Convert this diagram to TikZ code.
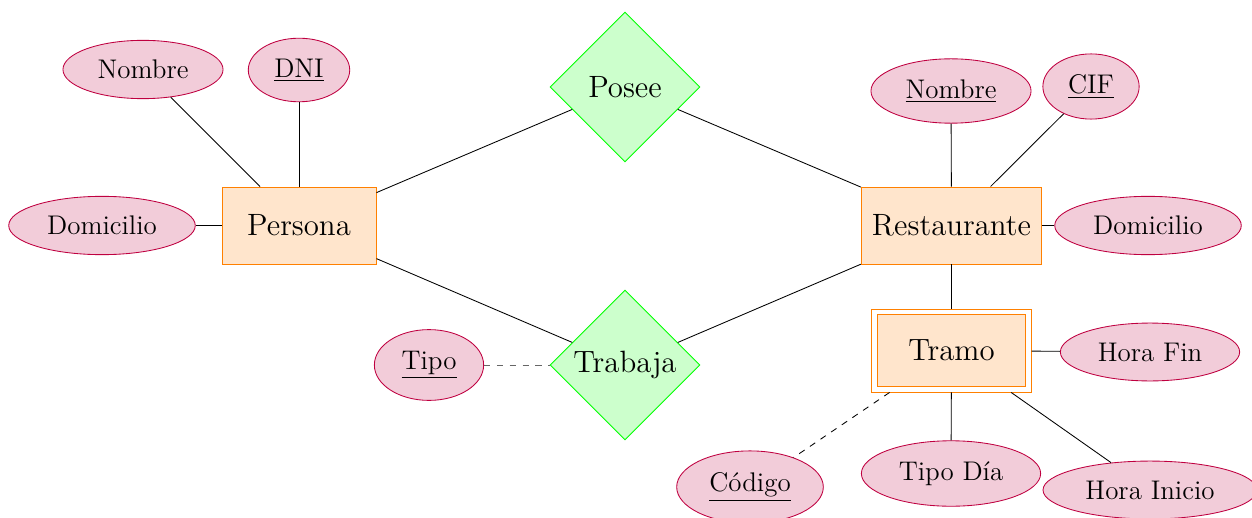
\documentclass[tikz,border=0pt]{standalone}
\usetikzlibrary{shapes.geometric}
\begin{document}
\begin{tikzpicture}[x=0.4673pt,y=-0.4673pt,
  entity/.style={rectangle,draw=orange,fill=orange!20,font=\Large,minimum width=72pt,minimum height=36pt,inner xsep=5pt},
  weakouter/.style={rectangle,draw=orange,fill=white,minimum width=74.4pt,minimum height=38.8pt,inner sep=0pt},
  weakinner/.style={rectangle,draw=orange,fill=orange!20,font=\Large,minimum width=69.2pt,minimum height=33.6pt,inner sep=0pt},
  relation/.style={diamond,draw=green,fill=green!20,font=\Large,minimum size=70pt,inner sep=0pt},
  attr/.style={ellipse,draw=purple,fill=purple!20,font=\fontsize{12.6}{15}\selectfont,inner sep=5.2pt},
  link/.style={draw=black},
  dlink/.style={draw=black,dashed},
  glink/.style={draw=black!60,dashed}]
\useasboundingbox (0,0) rectangle (1252,517);
% entities
\node[entity] (persona) at (299,225.5) {Persona};
\node[entity] (rest) at (951.5,225.5) {Restaurante};
\node[weakouter] (tramo) at (951.5,350.5) {};
\node[weakinner] (tramoin) at (951.5,350.5) {Tramo};
% relationships
\node[relation] (posee) at (625,87) {Posee};
\node[relation] (trabaja) at (625,365) {Trabaja};
% attributes
\node[attr] (nom1) at (143,69.5) {Nombre};
\node[attr] (dni) at (299,70) {\underline{DNI}};
\node[attr] (dom1) at (102,225.5) {Domicilio};
\node[attr] (nom2) at (951,91) {\underline{Nombre}};
\node[attr] (cif) at (1091,86.5) {\underline{CIF}};
\node[attr] (dom2) at (1148,225.5) {Domicilio};
\node[attr] (horafin) at (1150,352) {Hora Fin};
\node[attr] (tipo) at (429,365) {\underline{Tipo}};
\node[attr] (codigo) at (750,487) {\underline{Código}};
\node[attr] (tipodia) at (951,473.5) {Tipo Día};
\node[attr] (horaini) at (1150,490) {Hora Inicio};
% connectors
\draw[link] (nom1) -- (persona);
\draw[link] (dni) -- (persona);
\draw[link] (dom1) -- (persona);
\draw[link] (persona) -- (posee);
\draw[link] (persona) -- (trabaja);
\draw[link] (rest) -- (posee);
\draw[link] (rest) -- (trabaja);
\draw[link] (nom2) -- (rest);
\draw[link] (cif) -- (rest);
\draw[link] (dom2) -- (rest);
\draw[link] (rest) -- (tramo);
\draw[link] (tramo) -- (horafin);
\draw[link] (tramo) -- (tipodia);
\draw[link] (tramo) -- (horaini);
\draw[dlink] (tramo) -- (codigo);
\draw[glink] (tipo) -- (trabaja);
\end{tikzpicture}
\end{document}
